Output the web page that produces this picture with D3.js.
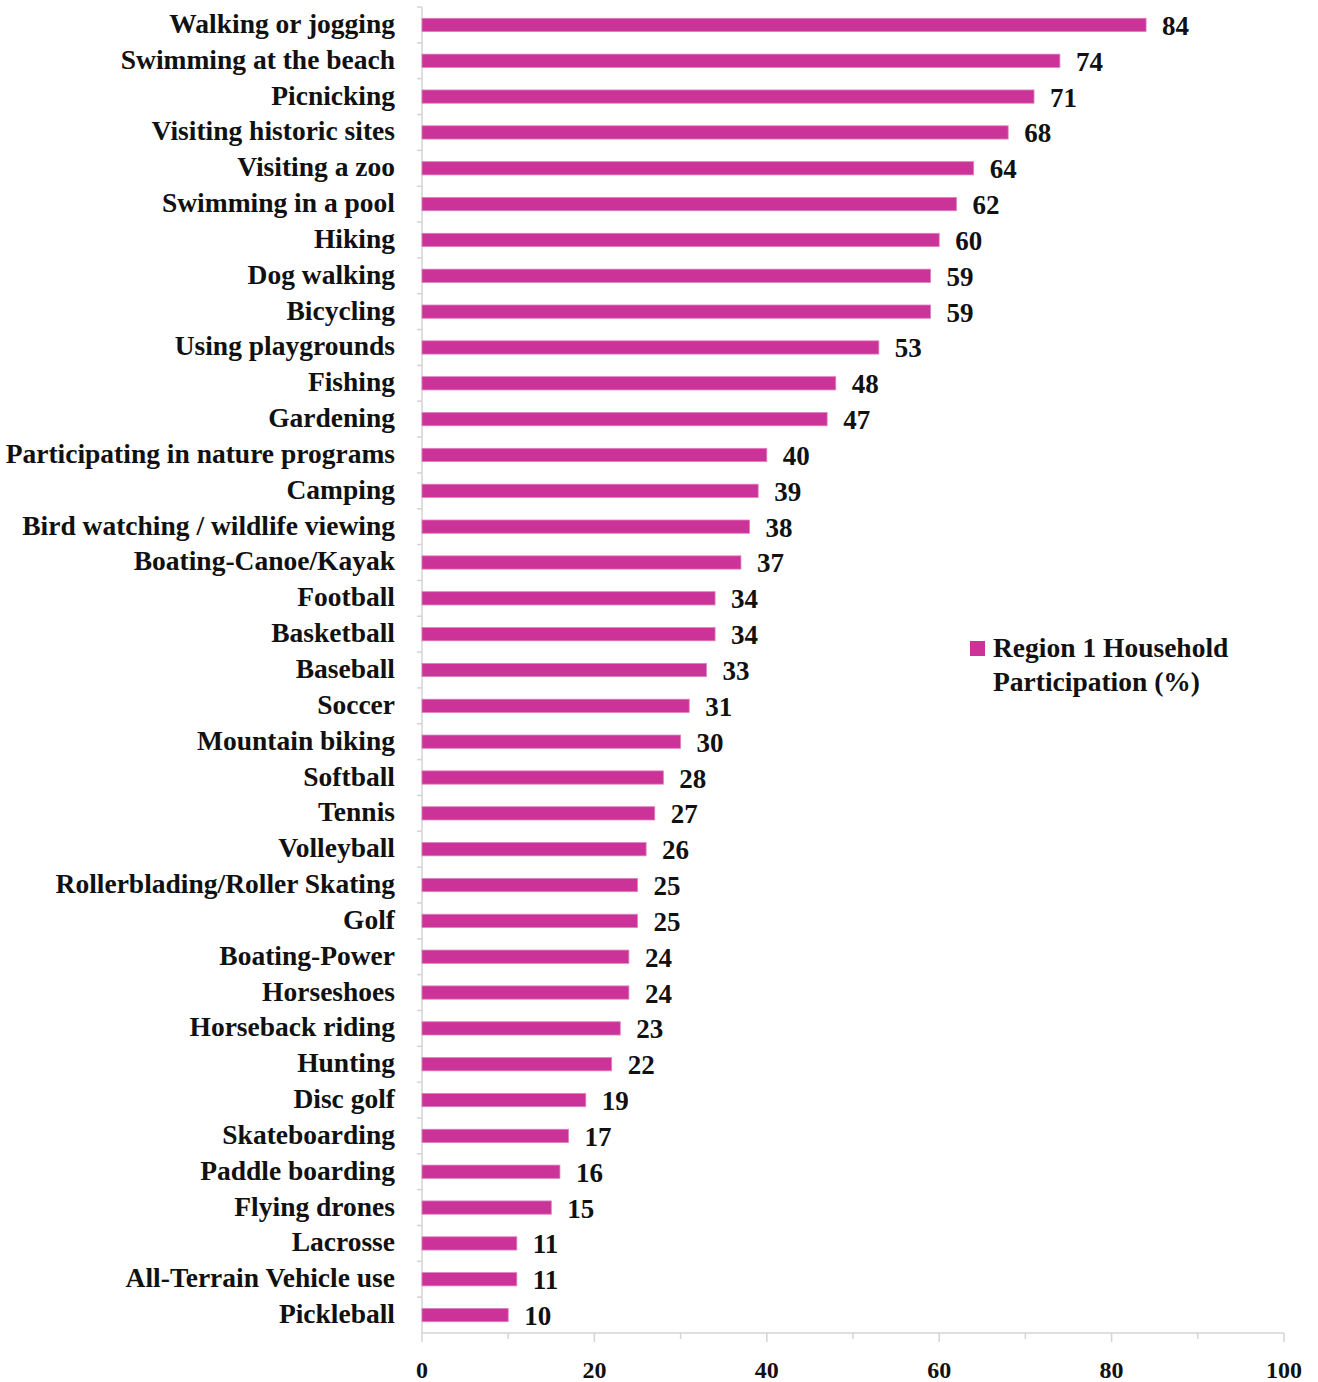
<!DOCTYPE html>
<html>
<head>
<meta charset="utf-8">
<script src="https://cdn.jsdelivr.net/npm/d3@7"></script>
<style>
  html, body { margin: 0; padding: 0; background: #fff; }
  svg { display: block; }
  text { font-family: "Liberation Serif", "DejaVu Serif", serif; fill: #111; }
</style>
</head>
<body>
<div id="chart"></div>
<script>
// Activities, ordered top to bottom
const activities = [
  "Walking or jogging", "Swimming at the beach", "Picnicking", "Visiting historic sites",
  "Visiting a zoo", "Swimming in a pool", "Hiking", "Dog walking", "Bicycling",
  "Using playgrounds", "Fishing", "Gardening", "Participating in nature programs",
  "Camping", "Bird watching / wildlife viewing", "Boating-Canoe/Kayak", "Football",
  "Basketball", "Baseball", "Soccer", "Mountain biking", "Softball", "Tennis",
  "Volleyball", "Rollerblading/Roller Skating", "Golf", "Boating-Power", "Horseshoes",
  "Horseback riding", "Hunting", "Disc golf", "Skateboarding", "Paddle boarding",
  "Flying drones", "Lacrosse", "All-Terrain Vehicle use", "Pickleball"
];
// Household participation, percent
const participation = [
  84, 74, 71, 68, 64, 62, 60, 59, 59, 53, 48, 47, 40, 39, 38, 37, 34, 34, 33, 31,
  30, 28, 27, 26, 25, 25, 24, 24, 23, 22, 19, 17, 16, 15, 11, 11, 10
];
const xTicks = [0, 20, 40, 60, 80, 100];
const seriesName = ["Region 1 Household", "Participation (%)"];

const W = 1318, H = 1382;
const margin = { left: 422, right: 34, top: 7, bottom: 49 };
const barColor = "#cc3399";
const axisColor = "#d4d4d4";

const svg = d3.select("#chart").append("svg").attr("width", W).attr("height", H);

const x = d3.scaleLinear().domain([0, 100]).range([margin.left, W - margin.right]);
const y = d3.scaleBand().domain(activities).range([margin.top, H - margin.bottom]).paddingInner(0.63).paddingOuter(0.315);
const yOuter = d3.scaleBand().domain(activities).range([margin.top, H - margin.bottom]);

const data = activities.map((a, i) => ({ a, v: participation[i] }));

// category boundary ticks on the value axis line
svg.append("g").selectAll("line")
  .data(activities)
  .join("line")
  .attr("x1", margin.left - 5).attr("x2", margin.left)
  .attr("y1", d => yOuter(d)).attr("y2", d => yOuter(d))
  .attr("stroke", axisColor).attr("stroke-width", 1.5);

// vertical axis line
svg.append("line")
  .attr("x1", margin.left).attr("x2", margin.left)
  .attr("y1", margin.top).attr("y2", H - margin.bottom)
  .attr("stroke", axisColor).attr("stroke-width", 1.5);

// horizontal axis with major and minor ticks
const axisY = H - margin.bottom;
svg.append("line")
  .attr("x1", margin.left).attr("x2", W - margin.right)
  .attr("y1", axisY).attr("y2", axisY)
  .attr("stroke", axisColor).attr("stroke-width", 1.5);
svg.append("g").selectAll("line")
  .data(d3.range(0, 101, 10))
  .join("line")
  .attr("x1", d => x(d)).attr("x2", d => x(d))
  .attr("y1", axisY).attr("y2", d => axisY + (d % 20 === 0 ? 9 : 6))
  .attr("stroke", axisColor).attr("stroke-width", 1.5);
svg.append("g").selectAll("text")
  .data(xTicks)
  .join("text")
  .attr("x", d => x(d)).attr("y", axisY + 45)
  .attr("text-anchor", "middle")
  .attr("font-size", 24)
  .attr("font-weight", "bold")
  .text(d => d);

// bars
svg.append("g").selectAll("rect")
  .data(data)
  .join("rect")
  .attr("x", x(0))
  .attr("y", d => y(d.a))
  .attr("width", d => x(d.v) - x(0))
  .attr("height", y.bandwidth())
  .attr("fill", barColor)
  .attr("stroke", "#e27fbd").attr("stroke-width", 0.8);

// value labels
svg.append("g").selectAll("text")
  .data(data)
  .join("text")
  .attr("x", d => x(d.v) + 16)
  .attr("y", d => y(d.a) + y.bandwidth() / 2 + 10)
  .attr("font-size", 27)
  .attr("font-weight", "bold")
  .text(d => d.v);

// category labels
svg.append("g").selectAll("text")
  .data(data)
  .join("text")
  .attr("x", 395)
  .attr("y", d => y(d.a) + y.bandwidth() / 2 + 8)
  .attr("text-anchor", "end")
  .attr("font-size", 27.5)
  .attr("font-weight", "bold")
  .text(d => d.a);

// legend
const lg = svg.append("g").attr("transform", "translate(970,641)");
lg.append("rect").attr("width", 15).attr("height", 15).attr("fill", barColor);
lg.selectAll("text")
  .data(seriesName)
  .join("text")
  .attr("x", 23).attr("y", (d, i) => 16 + i * 34)
  .attr("font-size", 27.5)
  .attr("font-weight", "bold")
  .text(d => d);
</script>
</body>
</html>
